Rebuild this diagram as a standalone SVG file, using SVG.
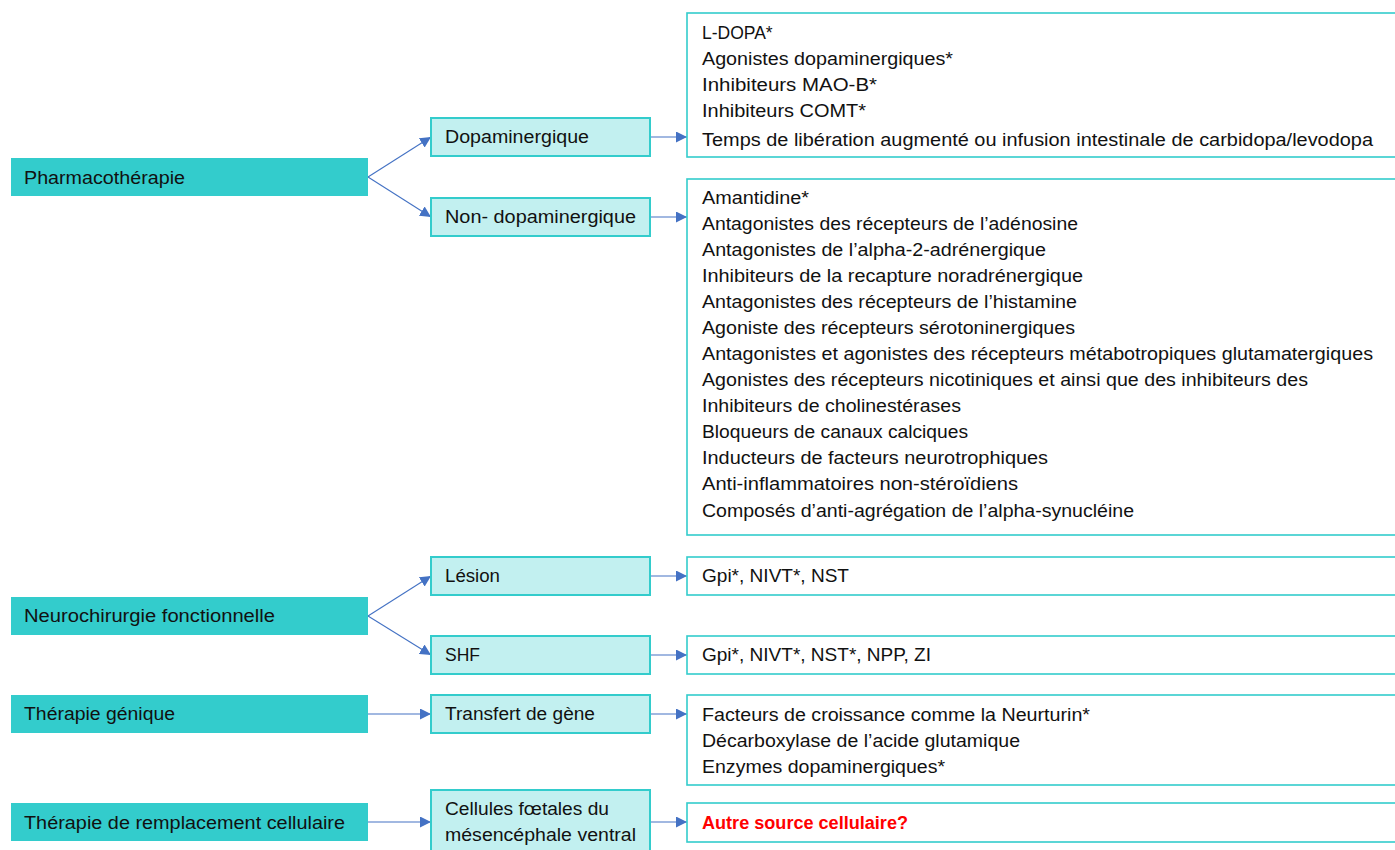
<svg xmlns="http://www.w3.org/2000/svg" width="1395" height="850" viewBox="0 0 1395 850">
<style>
text{font-family:"Liberation Sans",Arial,sans-serif;font-size:17.5px;fill:#111}
.l1{fill:#33CCCC}
.l2{fill:#C2F0F0;stroke:#33CCCC;stroke-width:2}
.l3{fill:#fff;stroke:#33CCCC;stroke-width:1.6}
.c{stroke:#4472C4;stroke-width:1.1;fill:none;marker-end:url(#ah)}
.red{fill:#FF0000;font-weight:bold}
</style>
<defs>
<marker id="ah" viewBox="0 0 10 10" refX="10" refY="5" markerWidth="11" markerHeight="11" markerUnits="userSpaceOnUse" orient="auto">
<path d="M0,0 L10,5 L0,10 z" fill="#4472C4"/>
</marker>
</defs>
<rect width="1395" height="850" fill="#fff"/>

<g id="connectors">
<path class="c" d="M368,177 L431,137"/>
<path class="c" d="M368,177 L431,217"/>
<path class="c" d="M650,137 L687,137"/>
<path class="c" d="M650,217 L687,217"/>
<path class="c" d="M368,616 L431,576"/>
<path class="c" d="M368,616 L431,655"/>
<path class="c" d="M650,576 L687,576"/>
<path class="c" d="M650,655 L687,655"/>
<path class="c" d="M368,714 L431,714"/>
<path class="c" d="M650,714 L687,714"/>
<path class="c" d="M368,822 L431,822"/>
<path class="c" d="M650,822 L687,822"/>
</g>

<g id="pharmaco"><rect class="l1" x="11" y="158" width="357" height="38"/><text x="24" y="184" textLength="161" lengthAdjust="spacingAndGlyphs">Pharmacothérapie</text></g>
<g id="neurochir"><rect class="l1" x="11" y="597" width="357" height="38"/><text x="24" y="622" textLength="251" lengthAdjust="spacingAndGlyphs">Neurochirurgie fonctionnelle</text></g>
<g id="genique"><rect class="l1" x="11" y="695" width="357" height="38"/><text x="24" y="720" textLength="151" lengthAdjust="spacingAndGlyphs">Thérapie génique</text></g>
<g id="remplacement"><rect class="l1" x="11" y="803" width="357" height="38"/><text x="24" y="829" textLength="321" lengthAdjust="spacingAndGlyphs">Thérapie de remplacement cellulaire</text></g>

<g id="dopa"><rect class="l2" x="431" y="118" width="219" height="38"/><text x="445" y="143" textLength="144" lengthAdjust="spacingAndGlyphs">Dopaminergique</text></g>
<g id="nondopa"><rect class="l2" x="431" y="198" width="219" height="38"/><text x="445" y="223" textLength="191" lengthAdjust="spacingAndGlyphs">Non- dopaminergique</text></g>
<g id="lesion"><rect class="l2" x="431" y="557" width="219" height="38"/><text x="445" y="582" textLength="55" lengthAdjust="spacingAndGlyphs">Lésion</text></g>
<g id="shf"><rect class="l2" x="431" y="636" width="219" height="38"/><text x="445" y="661">SHF</text></g>
<g id="transfert"><rect class="l2" x="431" y="695" width="219" height="38"/><text x="445" y="720" textLength="150" lengthAdjust="spacingAndGlyphs">Transfert de gène</text></g>
<g id="cellules"><rect class="l2" x="431" y="790" width="219" height="64"/><text x="445" y="815" textLength="164" lengthAdjust="spacingAndGlyphs">Cellules fœtales du</text><text x="445" y="841" textLength="191" lengthAdjust="spacingAndGlyphs">mésencéphale ventral</text></g>

<g id="list-dopa"><rect class="l3" x="687" y="13" width="720" height="144"/>
<text x="702" y="39">L-DOPA*</text>
<text x="702" y="65" textLength="251" lengthAdjust="spacingAndGlyphs">Agonistes dopaminergiques*</text>
<text x="702" y="91" textLength="175" lengthAdjust="spacingAndGlyphs">Inhibiteurs MAO-B*</text>
<text x="702" y="117" textLength="164" lengthAdjust="spacingAndGlyphs">Inhibiteurs COMT*</text>
<text x="702" y="146" textLength="671" lengthAdjust="spacingAndGlyphs">Temps de libération augmenté ou infusion intestinale de carbidopa/levodopa</text>
</g>

<g id="list-nondopa"><rect class="l3" x="687" y="179" width="720" height="356"/>
<text x="702" y="204" textLength="107" lengthAdjust="spacingAndGlyphs">Amantidine*</text>
<text x="702" y="230" textLength="376" lengthAdjust="spacingAndGlyphs">Antagonistes des récepteurs de l’adénosine</text>
<text x="702" y="256" textLength="344" lengthAdjust="spacingAndGlyphs">Antagonistes de l’alpha-2-adrénergique</text>
<text x="702" y="282" textLength="381" lengthAdjust="spacingAndGlyphs">Inhibiteurs de la recapture noradrénergique</text>
<text x="702" y="308" textLength="375" lengthAdjust="spacingAndGlyphs">Antagonistes des récepteurs de l’histamine</text>
<text x="702" y="334" textLength="373" lengthAdjust="spacingAndGlyphs">Agoniste des récepteurs sérotoninergiques</text>
<text x="702" y="360" textLength="671" lengthAdjust="spacingAndGlyphs">Antagonistes et agonistes des récepteurs métabotropiques glutamatergiques</text>
<text x="702" y="386" textLength="606" lengthAdjust="spacingAndGlyphs">Agonistes des récepteurs nicotiniques et ainsi que des inhibiteurs des</text>
<text x="702" y="412" textLength="259" lengthAdjust="spacingAndGlyphs">Inhibiteurs de cholinestérases</text>
<text x="702" y="438" textLength="266" lengthAdjust="spacingAndGlyphs">Bloqueurs de canaux calciques</text>
<text x="702" y="464" textLength="346" lengthAdjust="spacingAndGlyphs">Inducteurs de facteurs neurotrophiques</text>
<text x="702" y="490" textLength="316" lengthAdjust="spacingAndGlyphs">Anti-inflammatoires non-stéroïdiens</text>
<text x="702" y="517" textLength="432" lengthAdjust="spacingAndGlyphs">Composés d’anti-agrégation de l’alpha-synucléine</text>
</g>

<g id="list-lesion"><rect class="l3" x="687" y="557" width="720" height="38"/><text x="702" y="582" textLength="147" lengthAdjust="spacingAndGlyphs">Gpi*, NIVT*, NST</text></g>
<g id="list-shf"><rect class="l3" x="687" y="636" width="720" height="38"/><text x="702" y="661" textLength="229" lengthAdjust="spacingAndGlyphs">Gpi*, NIVT*, NST*, NPP, ZI</text></g>

<g id="list-gene"><rect class="l3" x="687" y="695" width="720" height="90"/>
<text x="702" y="721" textLength="388" lengthAdjust="spacingAndGlyphs">Facteurs de croissance comme la Neurturin*</text>
<text x="702" y="747" textLength="318" lengthAdjust="spacingAndGlyphs">Décarboxylase de l’acide glutamique</text>
<text x="702" y="773" textLength="243" lengthAdjust="spacingAndGlyphs">Enzymes dopaminergiques*</text>
</g>

<g id="list-cell"><rect class="l3" x="687" y="803" width="720" height="39"/><text class="red" x="702" y="829" textLength="206" lengthAdjust="spacingAndGlyphs">Autre source cellulaire?</text></g>
</svg>
